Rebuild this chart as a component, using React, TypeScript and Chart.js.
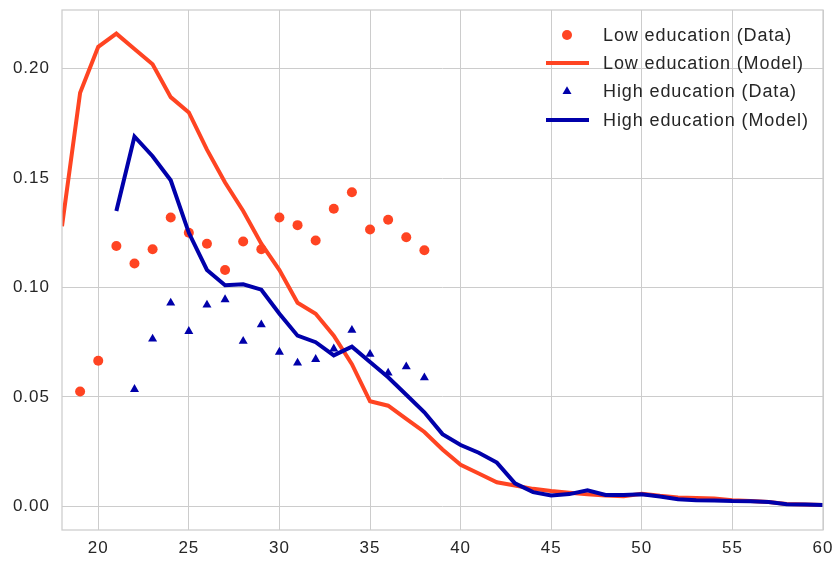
import React, { useEffect, useRef } from "react";
import { Chart, registerables } from "chart.js";

Chart.register(...registerables);

const modelAges = [18, 19, 20, 21, 22, 23, 24, 25, 26, 27, 28, 29, 30, 31, 32, 33, 34, 35, 36, 37, 38, 39, 40, 41, 42, 43, 44, 45, 46, 47, 48, 49, 50, 51, 52, 53, 54, 55, 56, 57, 58, 59, 60];
const lowModel = [0.128, 0.189, 0.210, 0.216, 0.209, 0.202, 0.187, 0.180, 0.163, 0.148, 0.135, 0.120, 0.108, 0.093, 0.088, 0.078, 0.065, 0.048, 0.046, 0.040, 0.034, 0.026, 0.019, 0.015, 0.011, 0.0095, 0.008, 0.007, 0.0062, 0.0055, 0.005, 0.0046, 0.0057, 0.0048, 0.0041, 0.0038, 0.0036, 0.0028, 0.0024, 0.002, 0.0011, 0.0008, 0.0006];

const highModelAges = [21, 22, 23, 24, 25, 26, 27, 28, 29, 30, 31, 32, 33, 34, 35, 36, 37, 38, 39, 40, 41, 42, 43, 44, 45, 46, 47, 48, 49, 50, 51, 52, 53, 54, 55, 56, 57, 58, 59, 60];
const highModel = [0.135, 0.169, 0.160, 0.149, 0.125, 0.108, 0.101, 0.1015, 0.099, 0.088, 0.078, 0.075, 0.069, 0.073, 0.066, 0.059, 0.051, 0.043, 0.033, 0.028, 0.0245, 0.020, 0.0105, 0.0065, 0.005, 0.0056, 0.0073, 0.0052, 0.0052, 0.0055, 0.0045, 0.0033, 0.0028, 0.0027, 0.0024, 0.0023, 0.002, 0.001, 0.0008, 0.0006];

const lowDataAges = [19, 20, 21, 22, 23, 24, 25, 26, 27, 28, 29, 30, 31, 32, 33, 34, 35, 36, 37, 38];
const lowData = [0.0525, 0.0665, 0.119, 0.111, 0.1175, 0.132, 0.125, 0.120, 0.108, 0.121, 0.1175, 0.132, 0.1285, 0.1215, 0.136, 0.1435, 0.1265, 0.131, 0.123, 0.117];

const highDataAges = [22, 23, 24, 25, 26, 27, 28, 29, 30, 31, 32, 33, 34, 35, 36, 37, 38];
const highData = [0.0535, 0.0765, 0.093, 0.080, 0.092, 0.0945, 0.0755, 0.083, 0.0705, 0.0655, 0.0672, 0.072, 0.0805, 0.0695, 0.061, 0.0638, 0.0588];

const xTicks = [20, 25, 30, 35, 40, 45, 50, 55, 60];
const yTicks = [0.0, 0.05, 0.1, 0.15, 0.2];

const legendLabels = ["Low education (Data)", "Low education (Model)", "High education (Data)", "High education (Model)"];

const RED = "#ff4422";
const BLUE = "#0000aa";
const GRID = "#cccccc";
const TEXT = "#262626";
const FONT = "'Liberation Sans', Arial, Helvetica, sans-serif";

const zip = (xs: number[], ys: number[]) => xs.map((x, i) => ({ x, y: ys[i] }));

const spacingPlugin = {
  id: "spacing",
  beforeDraw(chart: any) {
    try {
      chart.ctx.letterSpacing = "1px";
    } catch (e) {}
  },
};

const framePlugin = {
  id: "frame",
  afterDraw(chart: any) {
    const { ctx, chartArea } = chart;
    ctx.save();
    ctx.strokeStyle = GRID;
    ctx.lineWidth = 1.25;
    ctx.strokeRect(chartArea.left, chartArea.top, chartArea.right - chartArea.left, chartArea.bottom - chartArea.top);
    ctx.restore();
  },
};

const legendPlugin = {
  id: "customLegend",
  afterDraw(chart: any) {
    const { ctx, chartArea } = chart;
    const markerX = chartArea.right - 256;
    const textX = chartArea.right - 220;
    const rows = [35, 63, 91.5, 120];
    const styles = [
      { kind: "circle", color: RED },
      { kind: "line", color: RED },
      { kind: "triangle", color: BLUE },
      { kind: "line", color: BLUE },
    ];
    ctx.save();
    ctx.font = `18px ${FONT}`;
    try {
      ctx.letterSpacing = "0.9px";
    } catch (e) {}
    ctx.textBaseline = "middle";
    ctx.textAlign = "left";
    styles.forEach((s, i) => {
      const y = rows[i];
      ctx.fillStyle = s.color;
      ctx.strokeStyle = s.color;
      if (s.kind === "circle") {
        ctx.beginPath();
        ctx.arc(markerX, y, 5, 0, Math.PI * 2);
        ctx.fill();
      } else if (s.kind === "triangle") {
        const r = 5.2;
        ctx.beginPath();
        ctx.moveTo(markerX, y - r);
        ctx.lineTo(markerX + r * Math.sin(Math.PI / 3), y + r / 2);
        ctx.lineTo(markerX - r * Math.sin(Math.PI / 3), y + r / 2);
        ctx.closePath();
        ctx.fill();
      } else {
        ctx.lineWidth = 4;
        ctx.beginPath();
        ctx.moveTo(markerX - 21, y);
        ctx.lineTo(markerX + 22, y);
        ctx.stroke();
      }
      ctx.fillStyle = TEXT;
      ctx.fillText(legendLabels[i], textX, y + 1);
    });
    ctx.restore();
  },
};

export default function App() {
  const canvasRef = useRef<HTMLCanvasElement | null>(null);

  useEffect(() => {
    if (!canvasRef.current) return;
    const chart = new Chart(canvasRef.current, {
      type: "line",
      data: {
        datasets: [
          {
            label: legendLabels[0],
            data: zip(lowDataAges, lowData),
            showLine: false,
            pointStyle: "circle",
            pointRadius: 5,
            pointBackgroundColor: RED,
            pointBorderWidth: 0,
            borderColor: RED,
            backgroundColor: RED,
            order: 4,
          },
          {
            label: legendLabels[1],
            data: zip(modelAges, lowModel),
            borderColor: RED,
            borderWidth: 4,
            pointRadius: 0,
            tension: 0,
            order: 3,
          },
          {
            label: legendLabels[2],
            data: zip(highDataAges, highData),
            showLine: false,
            pointStyle: "triangle",
            pointRadius: 5.2,
            pointBackgroundColor: BLUE,
            pointBorderWidth: 0,
            borderColor: BLUE,
            backgroundColor: BLUE,
            order: 2,
          },
          {
            label: legendLabels[3],
            data: zip(highModelAges, highModel),
            borderColor: BLUE,
            borderWidth: 4,
            pointRadius: 0,
            tension: 0,
            order: 1,
          },
        ],
      },
      options: {
        animation: false,
        responsive: true,
        maintainAspectRatio: false,
        layout: { padding: { left: 0, right: 16, top: 10, bottom: 0 } },
        plugins: {
          legend: { display: false },
          tooltip: { enabled: false },
        },
        scales: {
          x: {
            type: "linear",
            min: 18,
            max: 60,
            afterBuildTicks: (scale: any) => {
              scale.ticks = xTicks.map((v) => ({ value: v }));
            },
            afterFit: (scale: any) => {
              scale.height = 31;
              scale.paddingLeft = 0;
              scale.paddingRight = 0;
            },
            grid: { color: GRID, lineWidth: 1, drawTicks: false },
            border: { display: false },
            ticks: {
              color: TEXT,
              font: { family: FONT, size: 17 },
              padding: 8,
              maxRotation: 0,
              callback: (v: any) => String(v),
            },
          },
          y: {
            type: "linear",
            min: -0.0108,
            max: 0.2268,
            afterBuildTicks: (scale: any) => {
              scale.ticks = yTicks.map((v) => ({ value: v }));
            },
            afterFit: (scale: any) => {
              scale.width = 62;
              scale.paddingTop = 0;
              scale.paddingBottom = 0;
            },
            grid: { color: GRID, lineWidth: 1, drawTicks: false },
            border: { display: false },
            ticks: {
              color: TEXT,
              font: { family: FONT, size: 17 },
              padding: 12,
              callback: (v: any) => Number(v).toFixed(2),
            },
          },
        },
      },
      plugins: [spacingPlugin, framePlugin, legendPlugin],
    });
    return () => chart.destroy();
  }, []);

  return (
    <div style={{ position: "fixed", left: 0, top: 0, width: 839, height: 561, background: "#ffffff" }}>
      <canvas ref={canvasRef} />
    </div>
  );
}
